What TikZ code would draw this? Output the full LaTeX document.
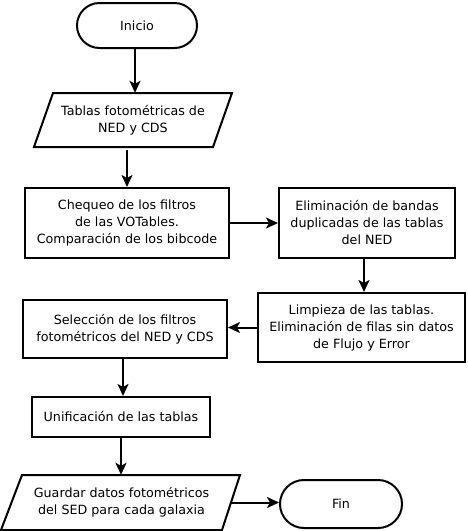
\documentclass[tikz,border=0pt]{standalone}
\usepackage{fontspec}
\setmainfont{DejaVu Sans}
\usetikzlibrary{arrows.meta,calc}
\begin{document}
\begin{tikzpicture}[x=1pt,y=-1pt,
  every node/.style={font=\fontsize{12.7}{17}\selectfont, align=center, inner sep=0pt},
  box/.style={draw, line width=2pt},
  term/.style={draw, line width=2pt},
  para/.style={line width=2pt, line join=miter},
  arr/.style={line width=2pt, -{Stealth[length=12pt,width=11pt,inset=3pt]}}]
\useasboundingbox (0,0) rectangle (467,531);
% terminals
\node[term, minimum width=120pt, minimum height=45pt, rounded corners=22.5pt] (inicio) at (137,25.5) {Inicio};
\node[term, minimum width=122pt, minimum height=48pt, rounded corners=24pt] (fin) at (341,504) {Fin};
% input parallelograms
\node[minimum width=179pt, minimum height=54pt] (tab) at (133,120) {Tablas fotométricas de\\NED y CDS};
\draw[para] ($(tab)+(-80,-27)$) -- ($(tab)+(99,-27)$) -- ($(tab)+(80,27)$) -- ($(tab)+(-99,27)$) -- cycle;
\node[minimum width=219pt, minimum height=55pt] (guard) at (121.5,502.5) {Guardar datos fotométricos\\del SED para cada galaxia};
\draw[para] ($(guard)+(-99.5,-27.5)$) -- ($(guard)+(118.5,-27.5)$) -- ($(guard)+(100.5,27.5)$) -- ($(guard)+(-120.5,27.5)$) -- cycle;
% process boxes
\node[box, minimum width=204pt, minimum height=70pt] (cheq) at (127,223) {Chequeo de los filtros\\de las VOTables.\\Comparación de los bibcode};
\node[box, minimum width=176pt, minimum height=70pt] (elim) at (367,223) {Eliminación de bandas\\duplicadas de las tablas\\del NED};
\node[box, minimum width=207pt, minimum height=69pt] (limp) at (361.5,327.5) {Limpieza de las tablas.\\Eliminación de filas sin datos\\de Flujo y Error};
\node[box, minimum width=204pt, minimum height=58pt] (sel) at (125,329) {Selección de los filtros\\fotométricos del NED y CDS};
\node[box, minimum width=178pt, minimum height=40pt] (unif) at (121,417) {Unificación de las tablas};
% connectors
\draw[arr] ([xshift=-2pt]inicio.south) -- ([xshift=-2pt]inicio.south |- tab.north);
\draw[arr, shorten <=3pt] (tab.south -| cheq.north) -- (cheq.north);
\draw[arr] (cheq.east) -- (cheq.east -| elim.west);
\draw[arr] ([xshift=-3pt]elim.south) -- ([xshift=-3pt]elim.south |- limp.north);
\draw[arr] (limp.west) -- (limp.west -| sel.east);
\draw[arr] ([xshift=-2pt]sel.south) -- ([xshift=-2pt]sel.south |- unif.north);
\draw[arr] (unif.south) -- (unif.south |- guard.north);
\draw[arr] (guard.east) -- (guard.east -| fin.west);
\end{tikzpicture}
\end{document}
